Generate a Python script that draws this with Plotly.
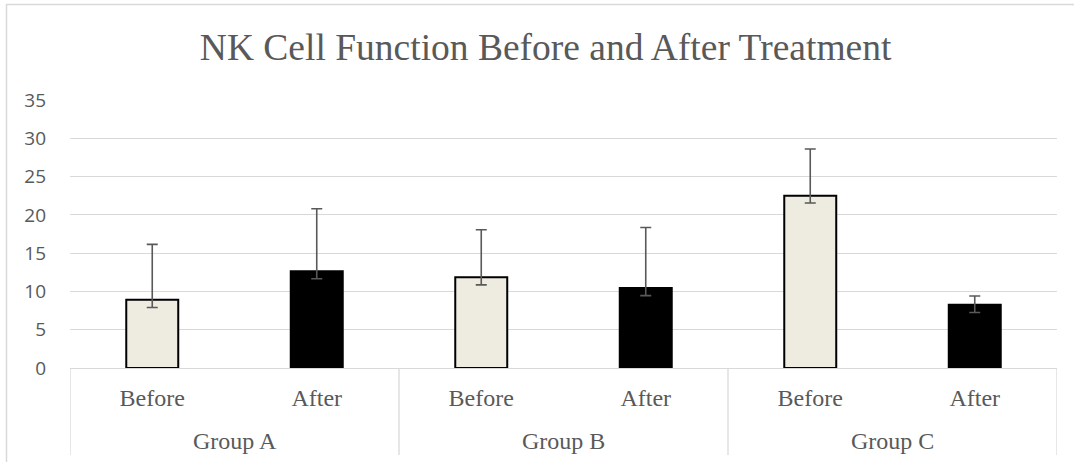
import plotly.graph_objects as go

# ---- data ----
groups = ["Group A", "Group A", "Group B", "Group B", "Group C", "Group C"]
phases = ["Before", "After", "Before", "After", "Before", "After"]
values = [8.9, 12.65, 11.85, 10.45, 22.5, 8.25]
err_plus = [7.25, 8.15, 6.2, 7.9, 6.1, 1.15]
err_minus = [1.0, 1.0, 1.0, 1.0, 0.95, 1.0]
y_ticks = [0, 5, 10, 15, 20, 25, 30, 35]

title_text = "NK Cell Function Before and After Treatment"

fill_before = "#EEEBE0"
fill_after = "#000000"
colors = [fill_before if p == "Before" else fill_after for p in phases]

# category positions derived from the lists
x_pos = list(range(len(phases)))
group_names = list(dict.fromkeys(groups))
group_idx = {g: [i for i, gg in enumerate(groups) if gg == g] for g in group_names}
group_centers = [sum(group_idx[g]) / len(group_idx[g]) for g in group_names]
boundaries = sorted({min(group_idx[g]) - 0.5 for g in group_names} |
                    {max(group_idx[g]) + 0.5 for g in group_names})

W, H = 1074, 462
ml, mr, mt, mb = 70, 17, 100, 94
pw, ph = W - ml - mr, H - mt - mb

GRAY = "#D9D9D9"
TXT = "#595959"

fig = go.Figure()
fig.add_trace(go.Bar(
    x=x_pos,
    y=values,
    marker=dict(color=colors, line=dict(color="#000000", width=2)),
    error_y=dict(type="data", symmetric=False, array=err_plus, arrayminus=err_minus,
                 color=TXT, thickness=1.6, width=5.5),
    showlegend=False,
    hoverinfo="skip",
))

shapes = [dict(type="line", xref="x", yref="paper", x0=b, x1=b,
               y0=0, y1=-(455 - (H - mb)) / ph, line=dict(color=GRAY, width=1.3))
          for b in boundaries]
shapes.append(dict(type="rect", xref="paper", yref="paper",
                   x0=(6.5 - ml) / pw, x1=1 + (mr + 20) / pw,
                   y0=-(mb + 20) / ph, y1=1 + (mt - 4.5) / ph,
                   line=dict(color=GRAY, width=1.5), layer="below"))

annotations = [dict(text=g, x=c, xref="x", y=-(441 - (H - mb)) / ph, yref="paper",
                    yanchor="middle", xanchor="center", showarrow=False,
                    font=dict(family="Liberation Serif", size=24, color=TXT))
               for g, c in zip(group_names, group_centers)]

fig.update_layout(
    width=W, height=H,
    margin=dict(l=ml, r=mr, t=mt, b=mb, pad=0),
    paper_bgcolor="white", plot_bgcolor="white",
    bargap=0.684,
    title=dict(text=title_text, x=545.6 / W, xanchor="center", xref="container",
               y=1 - 47 / H, yanchor="middle",
               font=dict(family="Liberation Serif", size=37.5, color=TXT)),
    xaxis=dict(range=[boundaries[0], boundaries[-1]], tickvals=x_pos, ticktext=phases,
               showgrid=False, zeroline=False, showline=True,
               linecolor=GRAY, linewidth=1.3, ticks="", ticklabelstandoff=8,
               tickfont=dict(family="Liberation Serif", size=24, color=TXT)),
    yaxis=dict(range=[0, 35], tickvals=y_ticks, showgrid=True, gridcolor=GRAY,
               gridwidth=1.3, zeroline=False, showline=False, ticks="",
               ticklabelstandoff=23,
               tickfont=dict(family="Open Sans", size=19, color=TXT)),
    shapes=shapes,
    annotations=annotations,
)

fig.write_html("out.html", config={"displayModeBar": False},
               post_script="document.body.style.margin='0';")
